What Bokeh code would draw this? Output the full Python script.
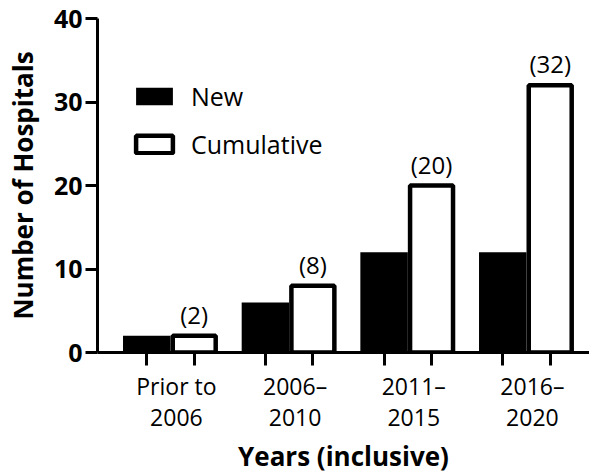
from bokeh.plotting import figure
from bokeh.models import (ColumnDataSource, Range1d, FixedTicker, Legend, LegendItem)
from bokeh.core.properties import value
from bokeh.embed import file_html
from bokeh.resources import INLINE

categories = ["Prior to\n2006", "2006\u2013\n2010", "2011\u2013\n2015", "2016\u2013\n2020"]
new_vals = [2, 6, 12, 12]
cumulative_vals = [2, 8, 20, 32]
y_ticks = [0, 10, 20, 30, 40]

FONT = "Open Sans"
idx = list(range(len(categories)))
off = 0.2          # half distance between paired bars (x units)
lab_shift = 0.05   # small rightward shift of the category label block (x units)
src = ColumnDataSource(dict(
    x_new=[i - off for i in idx],
    x_cum=[i + off for i in idx],
    new=new_vals,
    cum=cumulative_vals,
    lab=[f"({v})" for v in cumulative_vals],
))

x0, x1 = -0.615, 3.531
p = figure(width=589, height=476, output_backend="svg", toolbar_location=None,
           x_range=Range1d(x0, x1), y_range=Range1d(0, 40),
           min_border_left=97, min_border_right=0, min_border_top=18, min_border_bottom=123)
p.outline_line_color = None
p.grid.visible = False
p.background_fill_color = "white"

r_new = p.vbar(x="x_new", top="new", width=0.4, source=src, fill_color="black", line_color=None)
r_cum = p.vbar(x="x_cum", top="cum", width=0.362, source=src, fill_color="white",
               line_color="black", line_width=4.5)

p.text(x="x_cum", y="cum", text="lab", source=src, text_align="center", text_baseline="bottom",
       y_offset=-5, text_font=value(FONT), text_font_size="24px", text_color="black")

# y axis
ya = p.yaxis[0]
ya.ticker = FixedTicker(ticks=y_ticks)
ya.minor_tick_line_color = None
ya.major_tick_in = 0
ya.major_tick_out = 12
ya.major_tick_line_width = 3
ya.axis_line_width = 3
ya.major_label_text_font = FONT
ya.major_label_text_font_style = "bold"
ya.major_label_text_font_size = "25px"
ya.major_label_text_color = "black"
ya.major_label_standoff = 3
ya.axis_label = "Number of Hospitals"
ya.axis_label_text_font = FONT
ya.axis_label_text_font_style = "bold"
ya.axis_label_text_font_size = "26px"
ya.axis_label_text_color = "black"
ya.axis_label_standoff = 10

# x axis: tick marks at bar centres (minor), labels at group positions (major)
label_pos = [i + lab_shift for i in idx]
xa = p.xaxis[0]
xa.ticker = FixedTicker(ticks=label_pos,
                        minor_ticks=sorted([i - off for i in idx] + [i + off for i in idx]))
xa.major_label_overrides = {pos: c for pos, c in zip(label_pos, categories)}
xa.major_tick_in = 0
xa.major_tick_out = 0
xa.minor_tick_in = 0
xa.minor_tick_out = 13
xa.minor_tick_line_width = 3
xa.minor_tick_line_color = "black"
xa.axis_line_width = 3
xa.major_label_text_font = FONT
xa.major_label_text_font_size = "23px"
xa.major_label_text_color = "black"
xa.major_label_text_line_height = 0.98
xa.major_label_standoff = 4
xa.axis_label = "Years (inclusive)"
xa.axis_label_text_font = FONT
xa.axis_label_text_font_style = "bold"
xa.axis_label_text_font_size = "26px"
xa.axis_label_text_color = "black"
xa.axis_label_standoff = 2

legend = Legend(items=[LegendItem(label="New", renderers=[r_new]),
                       LegendItem(label="Cumulative", renderers=[r_cum])],
                location=(34, 191))
legend.margin = 0
legend.padding = 0
legend.glyph_width = 46
legend.glyph_height = 22
legend.label_standoff = 14
legend.spacing = 14
legend.label_text_font = FONT
legend.label_text_font_size = "25px"
legend.label_text_color = "black"
legend.border_line_color = None
legend.background_fill_alpha = 0
p.add_layout(legend)

open("out.html", "w").write(file_html(p, INLINE))
